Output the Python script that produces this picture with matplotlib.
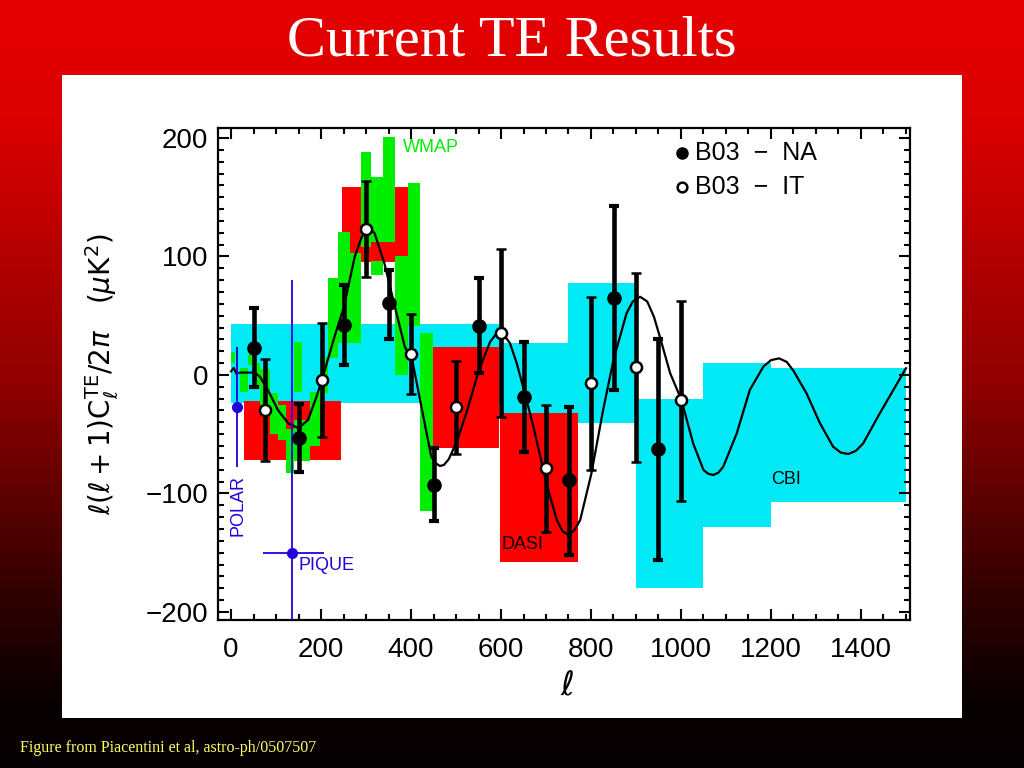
import numpy as np
import matplotlib
matplotlib.use('Agg')
import matplotlib.pyplot as plt
from matplotlib.colors import LinearSegmentedColormap
from matplotlib.ticker import MultipleLocator
from matplotlib.patches import Rectangle

# CBI bandas (azul claro)
cbi_ell_lo = [0, 600, 750, 900, 1050, 1200]
cbi_ell_hi = [600, 750, 900, 1050, 1200, 1500]
cbi_bot = [-23.6, -35, -40.5, -180, -128, -107]
cbi_top = [43, 27, 78, -20.5, 10.4, 6]

# DASI (vermelho)
dasi_ell_lo = [28, 246, 421, 597]
dasi_ell_hi = [245, 420, 596, 772]
dasi_bot = [-72, 95.6, -62, -157.5]
dasi_top = [-22, 159, 23.4, -31.8]

# WMAP (verde) - pedacos visiveis
wmap_ell_lo = [0, 20, 38, 52, 64, 86, 104, 122, 141, 141, 175, 197, 215, 238, 264, 288, 312, 312, 338, 364, 393, 421]
wmap_ell_hi = [8, 38, 52, 64, 86, 104, 122, 141, 158, 175, 197, 215, 238, 264, 288, 312, 338, 338, 364, 393, 419, 449]
wmap_bot = [10, -14, 8, -12, -25, -50, -55, -83, -14, -73, -60, -15, 14, 27, 27, 108, 112, 84, 112, 0, 41, -115]
wmap_top = [19, 6, 18, 10, 5, -15, -25, -46, 28, -38, -14, 15, 82, 121, 103, 188, 167, 96, 201, 100, 162, 35]

# B03 - NA (cheio)
ell_na = [51, 150, 251, 351, 451, 551, 651, 751, 851, 950]
te_na = [22.5, -53.5, 42.2, 60.5, -92.8, 41.6, -18.3, -89, 64.7, -62.7]
na_hi = [56.3, -24.5, 76, 88.6, -61.9, 82.1, 28.1, -26.7, 142.6, 30.1]
na_lo = [-9.9, -81.6, 8.4, 30.1, -122.9, 1.4, -64.7, -151.9, -12.7, -156]

# B03 - IT (aberto)
ell_it = [76, 202, 301, 401, 501, 601, 701, 801, 901, 1001]
te_it = [-29.5, -4.2, 122.9, 17.7, -27.3, 35.7, -78.8, -7, 6.3, -21.1]
it_hi = [13.2, 43.6, 164, 51.2, 12.1, 106, -25.3, 65.8, 85.8, 62.7]
it_lo = [-72.6, -52, 82.4, -16, -66.7, -35.2, -132.2, -80.2, -73.1, -106]

# POLAR e PIQUE
polar_ell, polar_te, polar_lo, polar_hi = 14, -26.7, -77.4, 23.9
pique_ell, pique_te = 136, -150.5
pique_ell_lo, pique_ell_hi = 70, 207
pique_lo, pique_hi = -300, 80

# modelo teorico
ell_th = [0, 2, 6, 12, 20, 35, 52, 64, 82, 104, 127, 150, 171, 190, 202, 215, 230, 251, 275, 290,
          301, 310, 319, 341, 364, 386, 404, 423, 445, 455, 464, 473, 484, 503, 524, 551, 576, 587, 598,
          609, 620, 635, 651, 672, 701, 724, 737, 750, 763, 776, 801, 827, 850, 879, 893, 909, 925, 940,
          953, 976, 1001, 1027, 1050, 1061, 1072, 1083, 1094, 1124, 1153, 1183, 1200, 1218, 1235, 1250,
          1279, 1309, 1338, 1355, 1372, 1389, 1405, 1442, 1472, 1500]
cl_th = [3, 4, 6, 1, 2, 2, 2, -1.4, -12.7, -29.5, -40.8, -45, -38, -18.3, -4.2, 12.7, 32.3, 57.7, 100, 116,
         123, 123, 119.6, 94, 57.7, 24, 10, -26.7, -69, -74.5, -76.8, -76, -71, -55, -30.9, 4.2, 28.1, 33.5, 35.1,
         32.5, 26.7, 9.8, -12.7, -43.6, -91.4, -122.4, -132, -135, -131, -122.4, -83, -29.5, 12.7, 52, 62, 66, 62, 49,
         32.3, 1.4, -21.1, -57.7, -80.2, -83.5, -84.4, -82.5, -77.4, -49.2, -12.7, 7, 12.5, 14, 11, 3.5,
         -15.5, -40.8, -60.5, -65.5, -66.7, -64, -57.7, -32.3, -12.7, 5.6]

cor_cbi = '#00eaf5'
cor_dasi = '#ff0000'
cor_wmap = '#00ee00'
cor_azul = '#2200dd'

fig = plt.figure(figsize=(10.24, 7.68), dpi=100)

# fundo em degrade vermelho -> preto
bg = fig.add_axes([0, 0, 1, 1])
bg.set_axis_off()
cmap = LinearSegmentedColormap.from_list('fundo', [(0, '#e60000'), (0.15, '#dc0000'), (0.5, '#900000'),
                                                   (0.8, '#2a0000'), (0.92, '#080000'), (1, '#050002')])
grad = np.linspace(0, 1, 256).reshape(-1, 1)
bg.imshow(grad, aspect='auto', cmap=cmap, extent=[0, 1, 0, 1], origin='upper')
bg.set_xlim(0, 1)
bg.set_ylim(0, 1)
bg.add_patch(Rectangle((62 / 1024, 1 - 718 / 768), 900 / 1024, 643 / 768, facecolor='white', edgecolor='none'))

fig.text(0.5, 1 - 42 / 768, 'Current TE Results', color='white', fontsize=42,
         family='Liberation Serif', ha='center', va='center')
fig.text(20 / 1024, 1 - 748 / 768, 'Figure from Piacentini et al, astro-ph/0507507', color='#ffff66',
         fontsize=11.5, family='Liberation Serif', ha='left', va='center')

ax = fig.add_axes([218 / 1024, 1 - 620 / 768, 692 / 1024, 492 / 768])
ax.set_facecolor('white')

w = np.array(cbi_ell_hi) - np.array(cbi_ell_lo)
ax.bar(cbi_ell_lo, np.array(cbi_top) - np.array(cbi_bot), width=w, bottom=cbi_bot, align='edge',
       color=cor_cbi, linewidth=0, zorder=1)
w = np.array(dasi_ell_hi) - np.array(dasi_ell_lo)
ax.bar(dasi_ell_lo, np.array(dasi_top) - np.array(dasi_bot), width=w, bottom=dasi_bot, align='edge',
       color=cor_dasi, linewidth=0, zorder=2)
w = np.array(wmap_ell_hi) - np.array(wmap_ell_lo)
ax.bar(wmap_ell_lo, np.array(wmap_top) - np.array(wmap_bot), width=w, bottom=wmap_bot, align='edge',
       color=cor_wmap, linewidth=0, zorder=3)

ax.plot(ell_th, cl_th, color='black', lw=1.6, zorder=4)

ax.errorbar([polar_ell], [polar_te], yerr=[[polar_te - polar_lo], [polar_hi - polar_te]],
            fmt='o', color=cor_azul, ms=7, elinewidth=1.3, capsize=0, zorder=5)
ax.errorbar([pique_ell], [pique_te], yerr=[[pique_te - pique_lo], [pique_hi - pique_te]],
            xerr=[[pique_ell - pique_ell_lo], [pique_ell_hi - pique_ell]],
            fmt='o', color=cor_azul, ms=7, elinewidth=1.3, capsize=0, zorder=5)

te_na = np.array(te_na)
te_it = np.array(te_it)
ax.errorbar(ell_na, te_na, yerr=[te_na - np.array(na_lo), np.array(na_hi) - te_na], fmt='o',
            color='black', ms=9.5, elinewidth=3.3, capsize=3.6, capthick=3, zorder=6)
ax.errorbar(ell_it, te_it, yerr=[te_it - np.array(it_lo), np.array(it_hi) - te_it], fmt='o',
            color='black', mfc='white', mec='black', mew=1.8, ms=8, elinewidth=3.3, capsize=3.6,
            capthick=3, zorder=6)

# rotulos
ax.text(382, 191.6, 'WMAP', color=cor_wmap, fontsize=13, family='Liberation Sans', va='center')
ax.text(600, -143.5, 'DASI', color='black', fontsize=13, family='Liberation Sans', va='center')
ax.text(1200, -88.6, 'CBI', color='black', fontsize=13, family='Liberation Sans', va='center')
ax.text(15.5, -110, 'POLAR', color=cor_azul, fontsize=13, family='Liberation Sans', rotation=90,
        ha='center', va='center')
ax.text(149, -161, 'PIQUE', color=cor_azul, fontsize=13, family='Liberation Sans', va='center')

# legenda manual
ax.plot([0.670], [0.949], 'o', color='black', ms=8, transform=ax.transAxes, clip_on=False)
ax.plot([0.670], [0.880], 'o', mfc='white', mec='black', mew=1.8, ms=7, transform=ax.transAxes,
        clip_on=False)
ax.text(0.689, 0.949, 'B03  \u2212  NA', transform=ax.transAxes, fontsize=18, family='Liberation Sans',
        va='center')
ax.text(0.689, 0.880, 'B03  \u2212  IT', transform=ax.transAxes, fontsize=18, family='Liberation Sans',
        va='center')

ax.set_xlim(-29, 1509)
ax.set_ylim(-206.8, 208.4)
ax.xaxis.set_major_locator(MultipleLocator(200))
ax.xaxis.set_minor_locator(MultipleLocator(50))
ax.yaxis.set_major_locator(MultipleLocator(100))
ax.yaxis.set_minor_locator(MultipleLocator(10))
ax.tick_params(which='both', direction='in', top=True, right=True, width=1.5, labelsize=20)
ax.tick_params(which='major', length=8)
ax.tick_params(which='minor', length=4.5)
ax.tick_params(axis='x', pad=12)
ax.tick_params(axis='y', pad=7)
for lab in ax.get_xticklabels() + ax.get_yticklabels():
    lab.set_family('Liberation Sans')
for s in ax.spines.values():
    s.set_linewidth(1.6)

ax.set_xlabel(r'$\ell$', fontsize=24)
ax.xaxis.set_label_coords(0.504, -0.10)
ax.set_ylabel(r'$\ell(\ell+1)\mathrm{C}_\ell^{\rm TE}/2\pi\quad(\mu{\rm K}^2)$', fontsize=20)
ax.yaxis.set_label_coords(-0.14, 0.5)

fig.savefig('out.png', dpi=100)
